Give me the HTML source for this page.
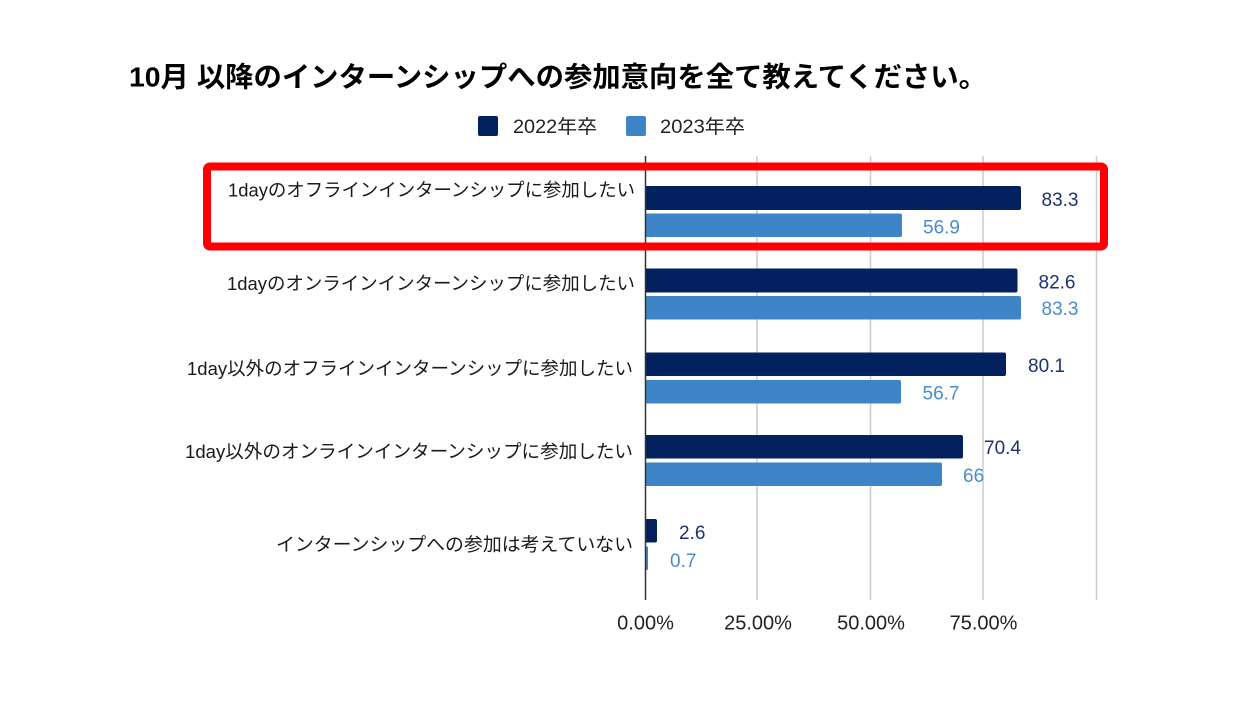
<!DOCTYPE html>
<html>
<head>
<meta charset="utf-8">
<style>
html,body{margin:0;padding:0;background:#ffffff;}
svg{display:block;}
text{font-family:"Liberation Sans","Noto Sans CJK JP",sans-serif;}
</style>
</head>
<body>
<svg width="1258" height="720" viewBox="0 0 1258 720" xmlns="http://www.w3.org/2000/svg">
  <rect x="0" y="0" width="1258" height="720" fill="#ffffff"/>

  <!-- Title -->
  <text x="129" y="86.5" font-size="28" font-weight="bold" fill="#000" textLength="858" lengthAdjust="spacingAndGlyphs">10月 以降のインターンシップへの参加意向を全て教えてください。</text>

  <!-- Legend -->
  <rect x="478" y="116" width="20" height="20" rx="2" fill="#03215e"/>
  <text x="513" y="133" font-size="19" fill="#222" textLength="84" lengthAdjust="spacingAndGlyphs">2022年卒</text>
  <rect x="626" y="116" width="20" height="20" rx="2" fill="#3d85c6"/>
  <text x="660" y="133" font-size="19" fill="#222" textLength="85" lengthAdjust="spacingAndGlyphs">2023年卒</text>

  <!-- Gridlines -->
  <g stroke="#cccccc" stroke-width="1.5">
    <line x1="757" y1="156" x2="757" y2="600"/>
    <line x1="870.5" y1="156" x2="870.5" y2="600"/>
    <line x1="983" y1="156" x2="983" y2="600"/>
    <line x1="1096.5" y1="156" x2="1096.5" y2="600"/>
  </g>

  <!-- Bars -->
  <g fill="#03215e">
    <rect x="645" y="186" width="376" height="24" rx="2"/>
    <rect x="645" y="268.5" width="372.5" height="24" rx="2"/>
    <rect x="645" y="352.5" width="361" height="23.5" rx="2"/>
    <rect x="645" y="435" width="318" height="23.5" rx="2"/>
    <rect x="645" y="519" width="12" height="23.5" rx="2"/>
  </g>
  <g fill="#3d85c6">
    <rect x="645" y="213.5" width="257" height="23.5" rx="2"/>
    <rect x="645" y="296" width="376" height="23.5" rx="2"/>
    <rect x="645" y="380" width="256" height="23.5" rx="2"/>
    <rect x="645" y="462.5" width="297" height="23.5" rx="2"/>
    <rect x="645" y="546.5" width="3" height="23.5" rx="1"/>
  </g>

  <!-- Axis line -->
  <line x1="645.5" y1="156" x2="645.5" y2="600" stroke="#333333" stroke-width="1.5"/>

  <!-- Value labels -->
  <g font-size="19">
    <text x="1041.5" y="206" fill="#1c3370">83.3</text>
    <text x="923" y="233.5" fill="#4a8bd0">56.9</text>
    <text x="1038.5" y="288.5" fill="#1c3370">82.6</text>
    <text x="1041.5" y="315" fill="#4a8bd0">83.3</text>
    <text x="1028" y="372" fill="#1c3370">80.1</text>
    <text x="922.5" y="399.5" fill="#4a8bd0">56.7</text>
    <text x="984" y="454" fill="#1c3370">70.4</text>
    <text x="963" y="482" fill="#4a8bd0">66</text>
    <text x="679" y="539" fill="#1c3370">2.6</text>
    <text x="670" y="567" fill="#4a8bd0">0.7</text>
  </g>

  <!-- Category labels -->
  <g font-size="18.5" fill="#1a1a1a">
    <text x="228" y="196.5" textLength="407" lengthAdjust="spacingAndGlyphs">1dayのオフラインインターンシップに参加したい</text>
    <text x="227" y="290" textLength="408" lengthAdjust="spacingAndGlyphs">1dayのオンラインインターンシップに参加したい</text>
    <text x="187" y="375" textLength="446" lengthAdjust="spacingAndGlyphs">1day以外のオフラインインターンシップに参加したい</text>
    <text x="185" y="458" textLength="448" lengthAdjust="spacingAndGlyphs">1day以外のオンラインインターンシップに参加したい</text>
    <text x="276" y="551" textLength="357" lengthAdjust="spacingAndGlyphs">インターンシップへの参加は考えていない</text>
  </g>

  <!-- X tick labels -->
  <g font-size="20" fill="#222222" text-anchor="middle">
    <text x="645.5" y="629.5">0.00%</text>
    <text x="758" y="629.5">25.00%</text>
    <text x="871" y="629.5">50.00%</text>
    <text x="983.5" y="629.5">75.00%</text>
  </g>

  <!-- Red highlight box -->
  <rect x="207" y="166.5" width="897" height="80" rx="3" fill="none" stroke="#ff0000" stroke-width="8"/>
</svg>
</body>
</html>
